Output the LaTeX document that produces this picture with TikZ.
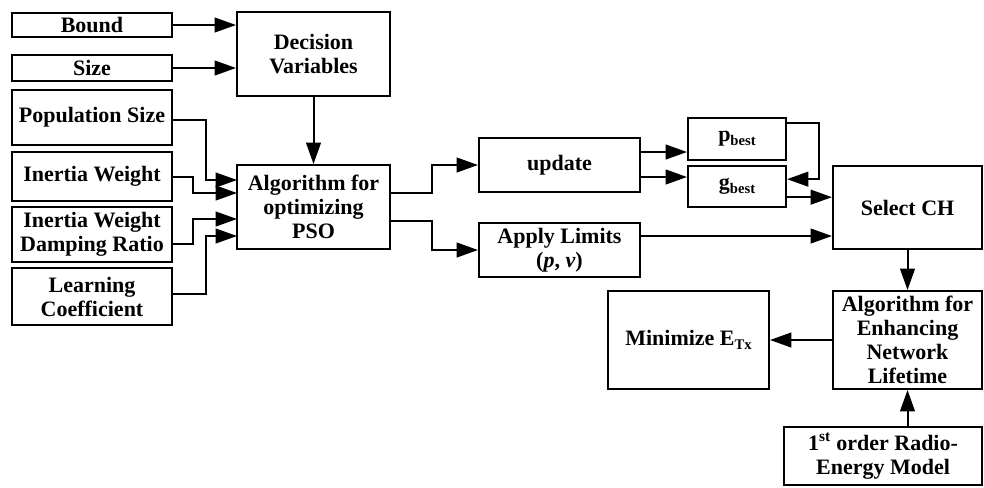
\documentclass[tikz,border=0pt]{standalone}
\usepackage{fontspec}
\setmainfont{Liberation Serif}
\usetikzlibrary{arrows.meta}

\newcommand{\sbs}[1]{\raisebox{-0.35ex}{\fontsize{11}{11}\selectfont #1}}

\begin{document}
\begin{tikzpicture}[x=0.75pt, y=-0.75pt, line width=1.5pt,
  box/.style={draw, rectangle, align=center, inner sep=0pt, font=\fontsize{16.5}{18}\selectfont\bfseries},
  arr/.style={-{Triangle[length=16pt, width=11pt]}}]
 \useasboundingbox (0,0) rectangle (984,487);
 \begin{scope}[every node/.style={box}]
   \node (bound) [minimum width=120pt, minimum height=18pt] at (92,25) {Bound};
   \node (size) [minimum width=120pt, minimum height=19.5pt] at (92,68) {Size};
   \node (popsize) [minimum width=120pt, minimum height=41.25pt] at (92,117.5) {Population Size};
   \node (inertia) [minimum width=120pt, minimum height=36.75pt] at (92,176.5) {Inertia Weight};
   \node (damping) [minimum width=120pt, minimum height=41.25pt] at (92,234.5) {Inertia Weight\\Damping Ratio};
   \node (learning) [minimum width=120pt, minimum height=42.75pt] at (92,296.5) {Learning\\Coefficient};
   \node (decision) [minimum width=114.75pt, minimum height=63pt] at (313.5,54) {Decision\\Variables};
   \node (pso) [minimum width=114.75pt, minimum height=63pt] at (313.5,207) {Algorithm for\\optimizing\\PSO};
   \node (update) [minimum width=120.75pt, minimum height=40.5pt] at (559.5,165) {update};
   \node (apply) [minimum width=120.75pt, minimum height=40.5pt] at (559.5,250) {Apply Limits\\(\textit{p}, \textit{v})};
   \node (pbest) [minimum width=73.5pt, minimum height=31.5pt] at (737,139) {p\sbs{best}};
   \node (gbest) [minimum width=73.5pt, minimum height=30.75pt] at (737,186.5) {g\sbs{best}};
   \node (selectch) [minimum width=111.75pt, minimum height=62.25pt] at (907.5,207.5) {Select CH};
   \node (enhance) [minimum width=111.75pt, minimum height=73.5pt] at (907.5,340) {Algorithm for\\Enhancing\\Network\\Lifetime};
   \node (minimize) [minimum width=120.75pt, minimum height=73.5pt] at (688.5,340) {Minimize E\sbs{Tx}};
   \node (radio) [minimum width=148.5pt, minimum height=43.5pt] at (883,456) {1\textsuperscript{st} order Radio-\\Energy Model};
 \end{scope}
 % inputs of the PSO block
 \coordinate (p1) at (237,180);
 \coordinate (p2) at (237,193);
 \coordinate (p3) at (237,219);
 \coordinate (p4) at (237,236);
 \draw[arr] (bound.east) -- (bound.east -| decision.west);
 \draw[arr] (size.east) -- (size.east -| decision.west);
 \draw[arr] (decision) -- (pso);
 \draw[arr] ([yshift=-2pt]popsize.east) -- ++(33,0) |- (p1);
 \draw[arr] (inertia.east) -- ++(20,0) |- (p2);
 \draw[arr] ([yshift=-7pt]damping.east) -- ++(20,0) |- (p3);
 \draw[arr] ([yshift=2pt]learning.east) -- ++(33,0) |- (p4);
 % PSO loop
 \draw[arr] ([yshift=10.5pt]pso.east) -- ++(41,0) |- (update.west);
 \draw[arr] ([yshift=-10.5pt]pso.east) -- ++(41,0) |- (apply.west);
 \draw[arr] ([yshift=9.75pt]update.east) -- ([yshift=9.75pt]update.east -| pbest.west);
 \draw[arr] ([yshift=-9pt]update.east) -- ([yshift=-9pt]update.east -| gbest.west);
 \draw[arr] ([yshift=12pt]pbest.east) -- ++(32,0) |- ([yshift=5.5pt]gbest.east);
 \draw[arr] ([yshift=-8pt]gbest.east) -- ([yshift=-8pt]gbest.east -| selectch.west);
 \draw[arr] ([yshift=10.5pt]apply.east) -- ([yshift=10.5pt]apply.east -| selectch.west);
 % clustering
 \draw[arr] (selectch) -- (enhance);
 \draw[arr] (enhance) -- (minimize);
 \draw[arr] (enhance.south |- radio.north) -- (enhance.south);
\end{tikzpicture}
\end{document}
